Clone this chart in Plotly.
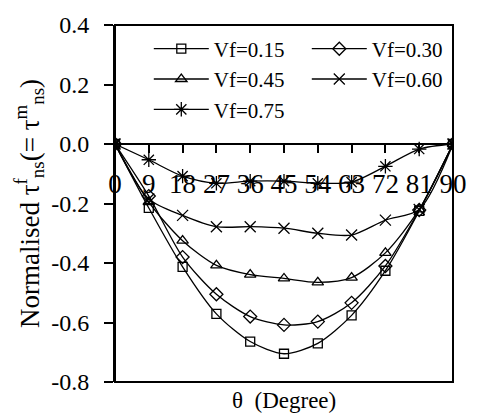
import plotly.graph_objects as go

theta = [0, 9, 18, 27, 36, 45, 54, 63, 72, 81, 90]
tick_labels = ["0", "9", "18", "27", "36", "45", "54", "63", "72", "81", "90"]
y_ticks = [0.4, 0.2, 0.0, -0.2, -0.4, -0.6, -0.8]
y_tick_labels = ["0.4", "0.2", "0.0", "-0.2", "-0.4", "-0.6", "-0.8"]

names = ["Vf=0.15", "Vf=0.30", "Vf=0.45", "Vf=0.60", "Vf=0.75"]
vf015 = [0, -0.215, -0.413, -0.571, -0.664, -0.705, -0.670, -0.576, -0.426, -0.225, 0]
vf030 = [0, -0.175, -0.380, -0.505, -0.580, -0.608, -0.597, -0.534, -0.410, -0.222, 0]
vf045 = [0, -0.195, -0.325, -0.408, -0.439, -0.452, -0.465, -0.449, -0.366, -0.220, 0]
vf060 = [0, -0.185, -0.240, -0.278, -0.278, -0.283, -0.300, -0.306, -0.256, -0.220, 0]
vf075 = [0, -0.053, -0.108, -0.132, -0.125, -0.125, -0.132, -0.128, -0.075, -0.017, 0]

series = [vf015, vf030, vf045, vf060, vf075]
symbols = ["square-open", "diamond-open", "triangle-up-open", "x-thin-open", "asterisk-open"]
sizes = [9, 10, 10, 11, 12]

FONT = "Liberation Serif"

fig = go.Figure()
for name, ys, sym, sz in zip(names, series, symbols, sizes):
    fig.add_trace(go.Scatter(
        x=theta, y=ys, name=name, mode="lines+markers",
        line=dict(color="black", width=1.3, shape="spline", smoothing=0.8),
        marker=dict(symbol=sym, size=sz, color="black",
                    line=dict(color="black", width=1.3)),
    ))

fig.add_shape(type="rect", xref="paper", yref="paper", x0=0, x1=1, y0=0, y1=1,
              line=dict(color="black", width=2), layer="above")

fig.add_annotation(text="θ  (Degree)", xref="paper", yref="paper",
                   x=0.5, y=0, yshift=-18, showarrow=False,
                   xanchor="center", yanchor="middle",
                   font=dict(family=FONT, size=23, color="black"))

fig.update_layout(
    width=479, height=416,
    margin=dict(l=115, r=13, t=20, b=34),
    paper_bgcolor="white", plot_bgcolor="white",
    font=dict(family=FONT, color="black"),
    showlegend=True,
    legend=dict(
        orientation="h", x=0.1, y=0.99, xanchor="left", yanchor="top",
        font=dict(family=FONT, size=21, color="black"),
        itemwidth=55, entrywidth=88, bgcolor="rgba(0,0,0,0)",
        tracegroupgap=0,
    ),
    xaxis=dict(
        range=[0, 90], anchor="free", position=0.6667,
        tickmode="array", tickvals=theta, ticktext=tick_labels,
        ticks="outside", ticklen=8, tickwidth=1.5, tickcolor="black",
        showline=False, showgrid=False, zeroline=False,
        tickfont=dict(family=FONT, size=27, color="black"),
        ticklabelstandoff=8, ticklabeloverflow="allow",
    ),
    yaxis=dict(
        range=[-0.8, 0.4], tickmode="array", tickvals=y_ticks, ticktext=y_tick_labels,
        ticks="outside", ticklen=9, tickwidth=1.5, tickcolor="black",
        showline=True, linecolor="black", linewidth=2,
        showgrid=False, zeroline=True, zerolinecolor="black", zerolinewidth=2,
        tickfont=dict(family=FONT, size=24, color="black"),
        ticklabelstandoff=10,
        title=dict(text="Normalised τ<sup>f</sup><sub>ns</sub>(= τ<sup>m</sup><sub>ns</sub>)",
                   font=dict(family=FONT, size=27, color="black"), standoff=4),
    ),
)

fig.write_html("out.html")
